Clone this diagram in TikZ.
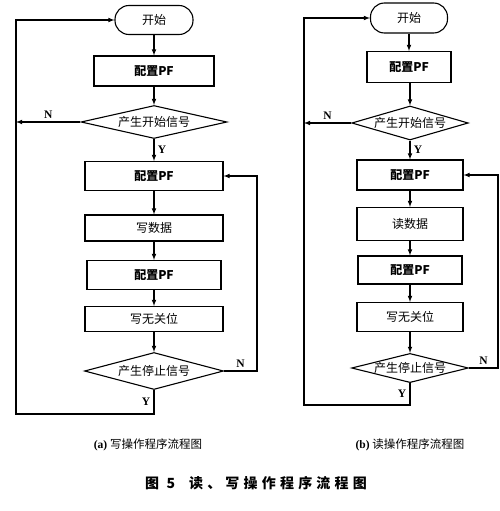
\documentclass[tikz,border=0pt]{standalone}
\usepackage{fontspec}
\setmainfont{Liberation Serif}
\newfontfamily\cjk{Noto Sans CJK SC}
\newfontfamily\cjktitle[LetterSpace=30]{Noto Sans CJK SC}
\usetikzlibrary{shapes.geometric,arrows}

\tikzset{
  term/.style={draw, line width=1.1pt, rounded corners=14pt, minimum width=78pt, minimum height=29pt, font=\cjk\fontsize{12}{14}\selectfont},
  proc/.style={draw, line width=1.1pt, minimum height=29pt, font=\cjk\fontsize{12}{14}\selectfont},
  dec/.style={draw, diamond, aspect=4, inner sep=0pt, line width=1.1pt, font=\cjk\fontsize{12}{14}\selectfont},
  flow/.style={-latex, line width=1.1pt},
  yn/.style={font=\bfseries\fontsize{11.5}{13}\selectfont}
}

\begin{document}
\begin{tikzpicture}[x=1pt,y=1pt]
        \useasboundingbox (0,0) rectangle (500,-511);
        % Loop points
        \coordinate (loopA) at (16,-414);
        \coordinate (backA) at (257,0);
        \coordinate (loopB) at (304,-405);
        \coordinate (backB) at (498,0);
        % (a) write flow
        \node[term] (startA) at (154,-20) {开始};
        \node[proc, minimum width=120pt, minimum height=30pt] (cfgA1) at (154,-71) {\bfseries 配置PF};
        \node[dec, minimum width=146pt, minimum height=33pt] (decA1) at (154,-122) {产生开始信号};
        \node[proc, minimum width=138pt] (cfgA2) at (154,-176) {\bfseries 配置PF};
        \node[proc, minimum width=138pt, minimum height=26pt] (writeA) at (154,-228) {写数据};
        \node[proc, minimum width=134pt] (cfgA3) at (154,-275) {\bfseries 配置PF};
        \node[proc, minimum width=138pt, minimum height=25pt] (dummyA) at (154,-319) {写无关位};
        \node[dec, minimum width=139pt, minimum height=37pt] (decA2) at (154,-371) {产生停止信号};
        % (b) read flow
        \node[term, minimum width=77pt, minimum height=30pt] (startB) at (409,-18) {开始};
        \node[proc, minimum width=84pt, minimum height=31pt] (cfgB1) at (409,-67) {\bfseries 配置PF};
        \node[dec, minimum width=111pt, minimum height=34pt] (decB1) at (410,-123) {产生开始信号};
        \node[proc, minimum width=106pt, minimum height=30pt] (cfgB2) at (410,-175) {\bfseries 配置PF};
        \node[proc, minimum width=106pt, minimum height=33pt] (readB) at (410,-224) {读数据};
        \node[proc, minimum width=104pt, minimum height=28pt] (cfgB3) at (410,-270) {\bfseries 配置PF};
        \node[proc, minimum width=106pt, minimum height=29pt] (dummyB) at (410,-317) {写无关位};
        \node[dec, minimum width=105pt, minimum height=29pt] (decB2) at (410,-368) {产生停止信号};
        % Straight arrows
        \draw[flow] (startA) -- (cfgA1);
        \draw[flow] (cfgA1) -- (decA1);
        \draw[flow] (decA1) -- (cfgA2) node[midway, right, yn] {Y};
        \draw[flow] (cfgA2) -- (writeA);
        \draw[flow] (writeA) -- (cfgA3);
        \draw[flow] (cfgA3) -- (dummyA);
        \draw[flow] (dummyA) -- (decA2);
        \draw[flow] (startB) -- (startB |- cfgB1.north);
        \draw[flow] (cfgB1.south -| decB1) -- (decB1);
        \draw[flow] (decB1) -- (cfgB2) node[midway, right, yn] {Y};
        \draw[flow] (cfgB2) -- (readB);
        \draw[flow] (readB) -- (cfgB3);
        \draw[flow] (cfgB3) -- (dummyB);
        \draw[flow] (dummyB) -- (decB2);
        % N branches
        \draw[flow] (decA1.west) -- (decA1.west -| loopA) node[midway, above, yn] {N};
        \draw[flow] (decB1.west) -- (decB1.west -| loopB) node[midway, above, yn] {N};
        \draw[flow] (decA2.east) -- (decA2.east -| backA) node[midway, above, yn] {N} |- (cfgA2.east);
        \draw[flow] (decB2.east) -- (decB2.east -| backB) node[midway, above, yn] {N} |- (cfgB2.east);
        % Y loops back to start
        \draw[flow] (decA2.south) -- (decA2.south |- loopA) node[midway, left, yn] {Y} -- (loopA) |- (startA.west);
        \draw[flow] (decB2.south) -- (decB2.south |- loopB) node[midway, left, yn] {Y} -- (loopB) |- (startB.west);
        % Captions
        \node[font=\fontsize{11.5}{13}\selectfont] (capA) at (148,-445) {\textbf{(a)} {\cjk 写操作程序流程图}};
        \node[font=\fontsize{11.5}{13}\selectfont] (capB) at (410,-445) {\textbf{(b)} {\cjk 读操作程序流程图}};
        \node[font=\fontsize{14}{16}\selectfont] (title) at (256,-483) {\cjktitle\bfseries 图 5\quad 读、写操作程序流程图};
\end{tikzpicture}
\end{document}
